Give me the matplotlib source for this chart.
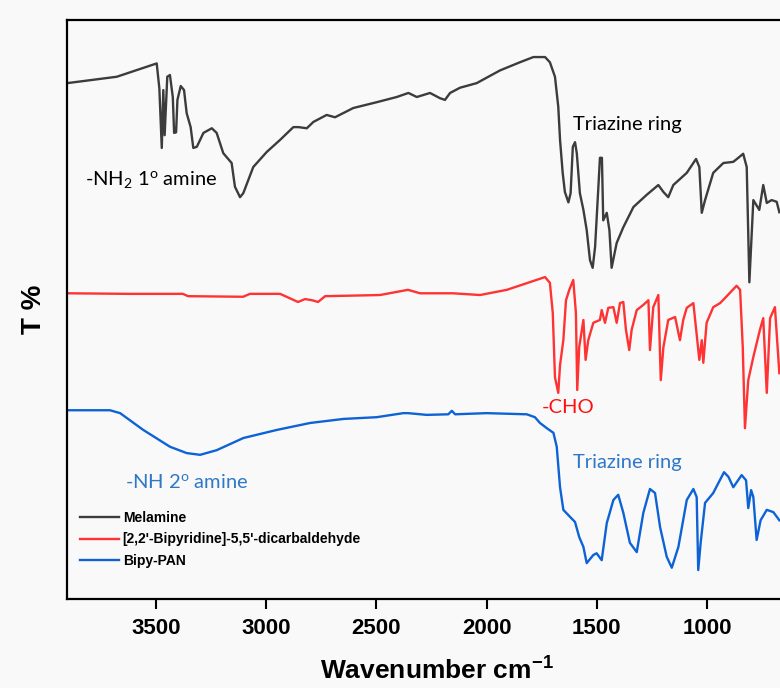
import matplotlib
matplotlib.use("Agg")
import matplotlib.pyplot as plt

plt.rcParams["font.family"] = ["Liberation Sans", "DejaVu Sans"]
plt.rcParams["mathtext.default"] = "regular"

# Melamine spectrum (wavenumber cm-1, T % with offset)
mel_wn = [3902, 3678, 3497, 3485, 3474, 3467, 3461, 3449, 3437, 3424, 3418, 3409,
          3403, 3388, 3373, 3361, 3343, 3331, 3315, 3285, 3247, 3225, 3195, 3157,
          3142, 3119, 3104, 3059, 2998, 2937, 2877, 2854, 2816, 2786, 2726, 2688,
          2605, 2499, 2408, 2355, 2317, 2257, 2212, 2189, 2166, 2121, 2045, 1939,
          1849, 1788, 1735, 1713, 1690, 1675, 1667, 1655, 1645, 1629, 1619, 1609,
          1599, 1591, 1577, 1561, 1546, 1531, 1519, 1508, 1493, 1486, 1477, 1471,
          1455, 1443, 1433, 1410, 1380, 1334, 1274, 1221, 1198, 1176, 1153, 1092,
          1050, 1035, 1024, 1009, 972, 926, 881, 858, 836, 820, 808, 790, 763,
          745, 729, 707, 684, 672]
mel_t = [89.1, 90.2, 92.5, 88.2, 77.9, 87.9, 80.1, 90.2, 90.5, 86.7, 80.5, 80.6,
         86.2, 88.6, 87.9, 83.9, 81.5, 77.9, 78.1, 80.5, 81.3, 80.5, 77.0, 75.3,
         71.2, 69.4, 70.1, 74.6, 77.2, 79.3, 81.5, 81.5, 81.3, 82.4, 83.6, 83.2,
         84.8, 85.8, 86.7, 87.4, 86.7, 87.4, 86.5, 86.2, 87.4, 88.3, 89.1, 91.3,
         92.7, 93.6, 93.6, 92.7, 90.2, 85.0, 79.3, 73.6, 70.3, 68.5, 70.1, 78.1,
         78.9, 77.0, 70.1, 67.2, 63.7, 58.5, 57.2, 60.8, 71.2, 76.2, 76.2, 65.4,
         66.7, 63.7, 57.2, 61.5, 64.2, 67.7, 69.8, 71.5, 70.3, 69.4, 71.5, 73.6,
         76.0, 74.6, 66.7, 68.9, 73.6, 75.3, 75.5, 76.2, 76.9, 74.6, 54.7, 68.9,
         67.2, 71.5, 68.4, 68.9, 68.6, 66.8]

# [2,2'-Bipyridine]-5,5'-dicarbaldehyde spectrum
bpy_wn = [3902, 3618, 3378, 3355, 3105, 3074, 2937, 2856, 2824, 2792, 2765, 2733,
          2484, 2357, 2302, 2153, 2030, 1908, 1735, 1713, 1700, 1690, 1675, 1667,
          1652, 1640, 1625, 1607, 1595, 1589, 1580, 1561, 1551, 1539, 1516, 1486,
          1478, 1463, 1448, 1425, 1410, 1395, 1380, 1368, 1353, 1342, 1319, 1289,
          1266, 1259, 1244, 1221, 1210, 1198, 1176, 1145, 1123, 1108, 1092, 1062,
          1035, 1024, 1017, 1002, 972, 941, 918, 866, 850, 838, 828, 813, 790,
          760, 745, 729, 714, 692, 672]
bpy_t = [52.8, 52.7, 52.7, 52.3, 52.2, 52.7, 52.7, 51.3, 51.8, 51.6, 51.3, 52.3,
         52.5, 53.4, 52.8, 52.8, 52.5, 53.4, 55.6, 54.6, 49.4, 38.3, 35.6, 40.4,
         44.7, 51.6, 53.4, 55.1, 49.4, 36.1, 43.5, 48.2, 41.3, 44.7, 47.7, 48.2,
         49.9, 47.7, 50.3, 50.4, 47.7, 51.1, 51.3, 46.5, 43.0, 46.5, 49.9, 50.8,
         51.6, 43.0, 50.4, 52.5, 37.8, 43.5, 48.2, 48.7, 44.7, 48.2, 50.3, 51.1,
         41.3, 44.7, 40.8, 47.7, 50.4, 51.1, 52.0, 54.1, 53.4, 43.5, 29.5, 37.8,
         41.8, 46.5, 48.5, 35.6, 48.5, 50.4, 39.0]

# Bipy-PAN spectrum
pan_wn = [3902, 3709, 3663, 3558, 3437, 3361, 3300, 3225, 3104, 2952, 2801, 2650,
          2499, 2378, 2357, 2272, 2174, 2158, 2143, 2000, 1818, 1781, 1758, 1727,
          1697, 1682, 1667, 1652, 1622, 1599, 1580, 1561, 1546, 1516, 1501, 1478,
          1455, 1425, 1403, 1380, 1350, 1319, 1289, 1259, 1236, 1213, 1183, 1160,
          1130, 1092, 1062, 1047, 1040, 1029, 1009, 972, 949, 923, 903, 881, 843,
          823, 813, 800, 790, 775, 757, 729, 699, 672]
pan_t = [32.6, 32.6, 32.1, 29.2, 26.3, 25.2, 24.9, 25.7, 27.8, 29.2, 30.4, 31.1,
         31.4, 32.1, 32.1, 31.8, 31.9, 32.5, 31.9, 32.1, 31.9, 31.4, 30.4, 29.5,
         28.7, 26.3, 19.3, 15.4, 14.2, 13.3, 10.7, 9.0, 6.2, 7.6, 7.9, 6.7,
         13.1, 17.1, 18.0, 14.9, 9.7, 8.1, 14.9, 19.0, 18.3, 12.4, 7.3, 5.4,
         9.0, 17.1, 19.0, 17.6, 5.0, 9.7, 16.6, 18.3, 20.0, 21.9, 21.1, 19.3, 21.4,
         20.5, 15.7, 18.8, 17.6, 10.2, 13.6, 15.4, 15.0, 13.6]

series_labels = ["Melamine", "[2,2'-Bipyridine]-5,5'-dicarbaldehyde", "Bipy-PAN"]
series_colors = ["#3c3c3c", "#ff3333", "#0d63d6"]
x_ticks = [3500, 3000, 2500, 2000, 1500, 1000]

fig = plt.figure(figsize=(7.8, 6.88), dpi=100, facecolor="#f9f9f9")
ax = fig.add_axes([67 / 780, 89 / 688, 713 / 780, 579 / 688], facecolor="#f9f9f9")

for wn, t, lab, col in zip([mel_wn, bpy_wn, pan_wn], [mel_t, bpy_t, pan_t],
                           series_labels, series_colors):
    ax.plot(wn, t, color=col, lw=1.7, label=lab)

ax.set_xlim(3904, 669)
ax.set_ylim(0, 100)
ax.set_xticks(x_ticks)
ax.set_yticks([])
ax.tick_params(axis="x", direction="out", length=7.5, width=1.5, pad=6,
               labelsize=16)
for lbl in ax.get_xticklabels():
    lbl.set_fontweight("bold")
for side in ["left", "top", "bottom"]:
    ax.spines[side].set_linewidth(1.6)
ax.spines["right"].set_visible(False)

ax.set_xlabel("Wavenumber cm$^{-1}$", fontsize=19, fontweight="bold")
ax.xaxis.set_label_coords(0.519, -0.101)
ax.set_ylabel("T %", fontsize=20, fontweight="bold")
ax.yaxis.set_label_coords(-0.028, 0.5)

note_font = ["Lato", "DejaVu Sans"]
ax.text(3822, 72.4, "-NH$_2$ 1$^o$ amine", fontsize=14.5, color="#000000",
        family=note_font, ha="left", va="center")
ax.text(1608, 82.0, "Triazine ring", fontsize=14.5, color="#000000",
        family=note_font, ha="left", va="center")
ax.text(1749, 33.0, "-CHO", fontsize=14.5, color="#ff1010",
        family=note_font, ha="left", va="center")
ax.text(1608, 23.5, "Triazine ring", fontsize=14.5, color="#2f78c8",
        family=note_font, ha="left", va="center")
ax.text(3641, 20.2, "-NH 2$^o$ amine", fontsize=14.5, color="#2f78c8",
        family=note_font, ha="left", va="center")

ax.legend(loc="upper left", bbox_to_anchor=(0.006, 0.166), frameon=False,
          handlelength=2.8, handletextpad=0.3, labelspacing=0.52,
          borderaxespad=0.0, borderpad=0.6,
          prop={"weight": "bold", "size": 10})

fig.savefig("out.png", dpi=100, facecolor=fig.get_facecolor())
